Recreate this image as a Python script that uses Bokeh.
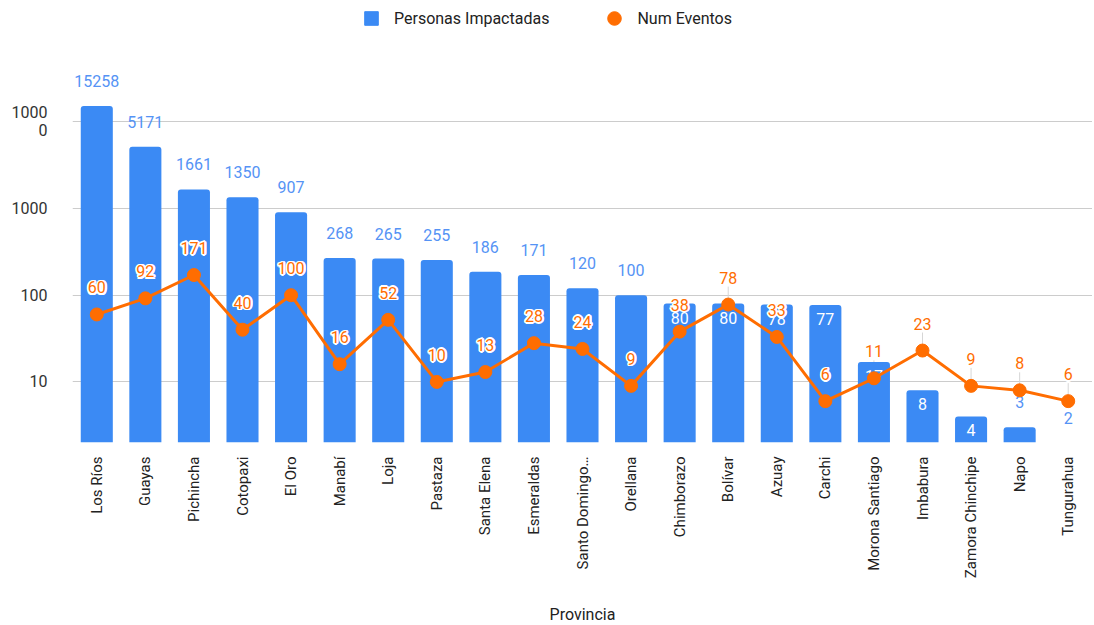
import math
from bokeh.plotting import figure
from bokeh.models import ColumnDataSource, FactorRange, Range1d, FixedTicker, Legend, LegendItem
from bokeh.core.properties import value
from bokeh.embed import file_html
from bokeh.resources import INLINE

# ---------------- data ----------------
provincias = ["Los Ríos", "Guayas", "Pichincha", "Cotopaxi", "El Oro", "Manabí", "Loja",
              "Pastaza", "Santa Elena", "Esmeraldas", "Santo Domingo…",
              "Orellana", "Chimborazo", "Bolívar", "Azuay", "Carchi", "Morona Santiago",
              "Imbabura", "Zamora Chinchipe", "Napo", "Tungurahua"]
personas = [15258, 5171, 1661, 1350, 907, 268, 265, 255, 186, 171, 120, 100,
            80, 80, 78, 77, 17, 8, 4, 3, 2]
eventos = [60, 92, 171, 40, 100, 16, 52, 10, 13, 28, 24, 9,
           38, 78, 33, 6, 11, 23, 9, 8, 6]
y_ticks = [10, 100, 1000, 10000]
y_tick_labels = ["10", "100", "1000", "1000\n0"]
series_names = ["Personas Impactadas", "Num Eventos"]
x_title = "Provincia"

# style: which bar labels are drawn inside the bar (white)
inside_bar_labels = ["Chimborazo", "Bolívar", "Azuay", "Carchi", "Morona Santiago",
                     "Imbabura", "Zamora Chinchipe"]

BLUE = "#3b8af4"
BLUE_TXT = "#5593f5"
ORANGE = "#ff6d01"
FONT = "Roboto"

src = ColumnDataSource(dict(prov=provincias, personas=personas, eventos=eventos,
                            ev_txt=[str(v) for v in eventos]))
out_idx = [i for i, n in enumerate(provincias) if n not in inside_bar_labels]
in_idx = [i for i, n in enumerate(provincias) if n in inside_bar_labels]
src_out = ColumnDataSource(dict(prov=[provincias[i] for i in out_idx],
                                v=[personas[i] for i in out_idx],
                                t=[str(personas[i]) for i in out_idx]))
src_in = ColumnDataSource(dict(prov=[provincias[i] for i in in_idx],
                               v=[personas[i] for i in in_idx],
                               t=[str(personas[i]) for i in in_idx]))

FRAME_H = 434
TOP = 8
p = figure(x_range=FactorRange(*provincias), y_range=Range1d(2, 2.03e5),
           y_axis_type="log", frame_width=1020, frame_height=FRAME_H,
           min_border_left=72, min_border_right=0, min_border_top=TOP, min_border_bottom=0,
           output_backend="svg", toolbar_location=None, title=None)
p.outline_line_color = None
p.background_fill_color = "white"

# leader lines for line labels (under bars)
p.ray(x="prov", y="eventos", length=18, length_units="screen", angle=math.pi / 2,
      line_color="#d6d6d6", line_width=1, source=src)

bars = p.vbar(x="prov", top="personas", bottom=1, width=0.66, fill_color=BLUE,
              line_color=None, border_radius=(3, 3, 0, 0), source=src)

# bar labels
p.text(x="prov", y="v", text="t", source=src_out, text_color=BLUE_TXT,
       text_align="center", text_baseline="middle", y_offset=-25,
       text_font=value(FONT), text_font_size="16px")
p.text(x="prov", y="v", text="t", source=src_in, text_color="white",
       text_align="center", text_baseline="middle", y_offset=14,
       text_font=value(FONT), text_font_size="16px")

# line
p.line(x="prov", y="eventos", line_color=ORANGE, line_width=3, source=src)
dots = p.scatter(x="prov", y="eventos", size=13, fill_color=ORANGE, line_color=ORANGE,
                 source=src)

# line labels with white halo
for dx, dy in [(-1.6, 0), (1.6, 0), (0, -1.6), (0, 1.6), (-1.2, -1.2), (1.2, 1.2),
               (-1.2, 1.2), (1.2, -1.2)]:
    p.text(x="prov", y="eventos", text="ev_txt", source=src, text_color="white",
           text_align="center", text_baseline="middle", x_offset=dx, y_offset=-27 + dy,
           text_font=value(FONT), text_font_size="16px", text_font_style="bold")
p.text(x="prov", y="eventos", text="ev_txt", source=src, text_color=ORANGE,
       text_align="center", text_baseline="middle", y_offset=-27,
       text_font=value(FONT), text_font_size="16px")

# axes
p.yaxis.ticker = FixedTicker(ticks=y_ticks)
p.yaxis.major_label_overrides = {t: l for t, l in zip(y_ticks, y_tick_labels)}
p.yaxis.axis_line_color = None
p.yaxis.major_tick_line_color = None
p.yaxis.minor_tick_line_color = None
p.yaxis.major_label_standoff = 19
p.yaxis.major_label_text_font = FONT
p.yaxis.major_label_text_font_size = "16px"
p.yaxis.major_label_text_color = "#333333"
p.yaxis.major_label_text_line_height = 0.95

p.xaxis.axis_line_color = None
p.xaxis.major_tick_line_color = None
p.xaxis.minor_tick_line_color = None
p.xaxis.major_label_orientation = math.pi / 2
p.xaxis.major_label_standoff = 8
p.xaxis.major_label_text_font = FONT
p.xaxis.major_label_text_font_size = "15px"
p.xaxis.major_label_text_color = "#222222"
p.xaxis.axis_label = x_title
p.xaxis.axis_label_standoff = 24
p.xaxis.axis_label_text_font = FONT
p.xaxis.axis_label_text_font_size = "16px"
p.xaxis.axis_label_text_font_style = "normal"
p.xaxis.axis_label_text_color = "#222222"

p.xgrid.grid_line_color = None
p.ygrid.grid_line_color = "#cccccc"
p.ygrid.grid_line_width = 1

# legend (location = bottom-left corner, measured from the frame's bottom-left)
leg_sq = p.scatter(x=[provincias[0]], y=[float("nan")], marker="square",
                   fill_color=BLUE, line_color=BLUE)
legend = Legend(items=[LegendItem(label=series_names[0], renderers=[leg_sq], index=0),
                       LegendItem(label=series_names[1], renderers=[dots], index=0)],
                location=(282, TOP + FRAME_H - 35), orientation="horizontal",
                glyph_width=34, glyph_height=34, label_standoff=6, spacing=48,
                padding=0, margin=0, border_line_color=None, background_fill_alpha=0,
                label_text_font=FONT, label_text_font_size="16px",
                label_text_color="#222222")
p.add_layout(legend)

open("out.html", "w").write(file_html(p, INLINE))
